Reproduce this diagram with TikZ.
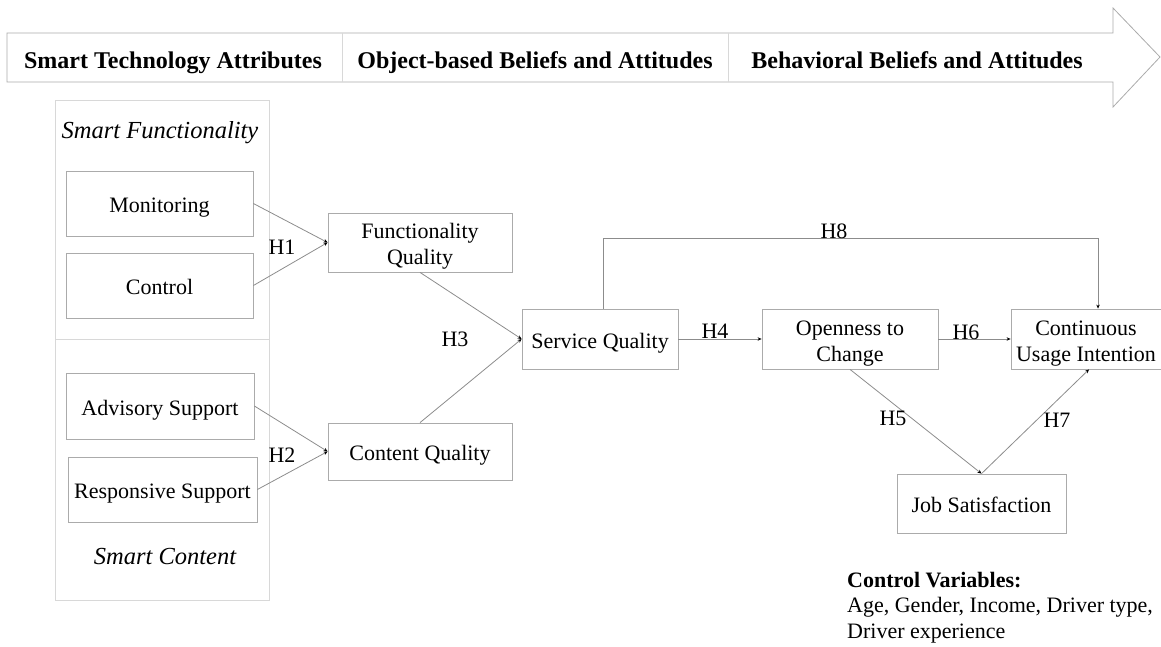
\documentclass[tikz,border=0pt]{standalone}
\usepackage{fontspec}
\setmainfont{Liberation Serif}
\usetikzlibrary{arrows.meta,calc}
\definecolor{boxc}{HTML}{ABABAB}
\definecolor{linec}{HTML}{8C8C8C}
\definecolor{sepc}{HTML}{D8D8D8}
\begin{document}
\begin{tikzpicture}[x=1pt,y=-1pt,
  box/.style={draw=boxc, line width=0.8pt, rectangle, inner sep=0pt, align=center, font=\fontsize{22}{26}\selectfont, text height=18pt, text depth=0pt},
  boxtwo/.style={box, text height=44pt, text depth=0pt},
  link/.style={draw=linec, line width=0.8pt, -{Stealth[length=4pt,width=3.5pt,black]}},
  lab/.style={font=\fontsize{22}{26}\selectfont, inner sep=0pt},
  hdr/.style={font=\fontsize{24}{28}\selectfont\bfseries, inner sep=0pt, anchor=base},
  grp/.style={font=\fontsize{24.5}{28}\selectfont\itshape, inner sep=0pt},
]
\useasboundingbox (0,0) rectangle (1161,646);
% header arrow band
\draw[draw=boxc, line width=0.8pt] (7,33) -- (1113,33) -- (1113,8) -- (1160,57) -- (1113,107) -- (1113,82) -- (7,82) -- cycle;
\draw[draw=sepc, line width=0.8pt] (342,33) -- (342,82);
\draw[draw=sepc, line width=0.8pt] (728,33) -- (728,82);
\node[hdr] (h1) at (173,68) {Smart Technology Attributes};
\node[hdr] (h2) at (535,68) {Object-based Beliefs and Attitudes};
\node[hdr] (h3) at (917,68) {Behavioral Beliefs and Attitudes};
% left container
\draw[draw=sepc, line width=0.8pt] (55,100) rectangle (269,600);
\draw[draw=sepc, line width=0.8pt] (55,339) -- (269,339);
\node[grp] (gf) at (160,133) {Smart Functionality};
\node[grp] (gc) at (165,557) {Smart Content};
% boxes
\node[box, minimum width=187pt, minimum height=65pt] (mon) at (159.5,203.5) {Monitoring};
\node[box, minimum width=187pt, minimum height=65pt] (ctl) at (159.5,285.5) {Control};
\node[box, minimum width=188pt, minimum height=66pt] (adv) at (160,406) {Advisory Support};
\node[box, minimum width=189pt, minimum height=65pt] (rsp) at (162.5,489.5) {Responsive Support};
\node[boxtwo, minimum width=184pt, minimum height=59pt] (fq) at (420,242.5) {Functionality\\Quality};
\node[box, minimum width=184pt, minimum height=57pt] (cq) at (420,451.5) {Content Quality};
\node[box, minimum width=156pt, minimum height=60pt] (sq) at (600,339) {Service Quality};
\node[boxtwo, minimum width=176pt, minimum height=60pt] (oc) at (850,339) {Openness to\\Change};
\node[boxtwo, minimum width=150pt, minimum height=60pt] (cui) at (1086,339) {Continuous\\Usage Intention};
\node[box, minimum width=169pt, minimum height=59pt] (js) at (981.5,503.5) {Job Satisfaction};
% connectors
\draw[link] (mon.east) -- (fq.west);
\draw[link] (ctl.east) -- (fq.west);
\draw[link] (adv.east) -- (cq.west);
\draw[link] (rsp.east) -- (cq.west);
\draw[link] (fq.south) -- (sq.west);
\draw[link] (cq.north) -- (sq.west);
\draw[link] (sq.east) -- (oc.west);
\draw[link] (oc.east) -- (cui.west);
\coordinate (h8a) at ($(sq.north)+(3,0)$);
\coordinate (h8b) at ($(cui.north)+(12,0)$);
\draw[link] (h8a) -- ++(0,-70) -| (h8b);
\draw[link] (oc.south) -- (js.north);
\draw[link] (js.north) -- ($(cui.south)+(3,0)$);
% labels
\node[lab] (l1) at (282,247) {H1};
\node[lab] (l2) at (282,455) {H2};
\node[lab] (l3) at (455,339) {H3};
\node[lab] (l4) at (715,331) {H4};
\node[lab] (l6) at (966,332) {H6};
\node[lab] (l8) at (834,231) {H8};
\node[lab] (l5) at (893,418) {H5};
\node[lab] (l7) at (1057,420) {H7};
% control variables
\node[lab, anchor=base west] (cv1) at (847,587) {\bfseries Control Variables:};
\node[lab, anchor=base west] (cv2) at (847,612.5) {Age, Gender, Income, Driver type,};
\node[lab, anchor=base west] (cv3) at (847,638) {Driver experience};
\end{tikzpicture}
\end{document}
